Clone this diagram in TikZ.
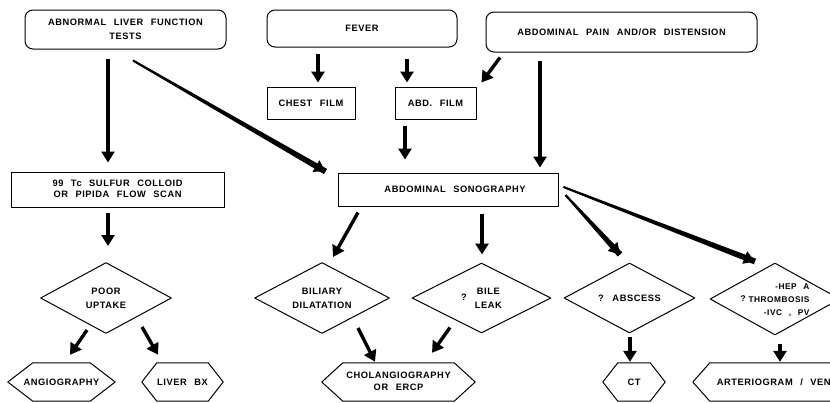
\documentclass[tikz,border=0pt]{standalone}
\usepackage{fontspec}
\newfontfamily\lab[LetterSpace=6,WordSpace=2.4]{Liberation Sans}
\usetikzlibrary{arrows.meta,shapes.geometric,calc}
\newcommand\zb[1]{\makebox[0pt]{\smash{\raisebox{-2.6pt}{\begin{tabular}{@{}c@{}}#1\end{tabular}}}}}
\newcommand\hexa[2]{\draw[outl] (#1.west) -- ([xshift=#2]#1.north west) -- ([xshift=-#2]#1.north east) -- (#1.east) -- ([xshift=-#2]#1.south east) -- ([xshift=#2]#1.south west) -- cycle;}
\newcommand\taper[4]{\fill let \p1=(#1), \p2=(#2), \n1={atan2(\y2-\y1,\x2-\x1)} in
  ($(\p1)+(\n1+90:#3)$) -- ($(\p2)+(\n1+90:#4)$) -- ($(\p2)+(\n1-90:#4)$) -- ($(\p1)+(\n1-90:#3)$) -- cycle;}
\tikzset{
  lbl/.style={font=\lab\bfseries\fontsize{9.3}{14}\selectfont, inner sep=0pt},
  tight/.style={font=\lab\bfseries\fontsize{9.3}{11.5}\selectfont},
  small/.style={font=\lab\bfseries\fontsize{8.3}{13}\selectfont},
  outl/.style={line width=1pt, line join=round},
  rbox/.style={lbl, draw, outl, rounded corners=8pt},
  sbox/.style={lbl, draw, outl},
  dia/.style={lbl, draw, outl, diamond},
  hexnode/.style={lbl, rectangle},
  arr/.style={line width=3.4pt, -{Triangle[length=11pt,width=13pt]}},
  tarr/.style={line width=1.6pt, -{Triangle[length=11pt,width=13pt]}},
}
\begin{document}
\begin{tikzpicture}[x=1pt,y=-1pt]
\clip (0,0) rectangle (830,402);
\fill[white] (0,0) rectangle (830,402);
% top row
\node[rbox, minimum width=201pt, minimum height=39pt] (liver) at (125.5,29.5) {\zb{ABNORMAL LIVER FUNCTION\\TESTS}};
\node[rbox, minimum width=190pt, minimum height=37pt] (fever) at (362,28.5) {\zb{FEVER}};
\node[rbox, minimum width=271pt, minimum height=40pt] (pain) at (621.5,32) {\zb{ABDOMINAL PAIN AND/OR DISTENSION}};
\node[sbox, minimum width=88pt, minimum height=32pt] (chest) at (311,103) {\zb{CHEST FILM}};
\node[sbox, minimum width=81pt, minimum height=32pt] (abd) at (435.5,103) {\zb{ABD. FILM}};
% middle
\node[sbox, tight, minimum width=213pt, minimum height=35pt] (tc) at (117.5,189.5) {\zb{99 Tc SULFUR COLLOID\\OR PIPIDA FLOW SCAN}};
\node[sbox, minimum width=220pt, minimum height=33pt] (sono) at (448,189.5) {\zb{\hspace{14pt}ABDOMINAL SONOGRAPHY}};
% diamonds
\node[dia, minimum width=131pt, minimum height=71pt] (poor) at (106,298) {\zb{POOR\\UPTAKE}};
\node[dia, minimum width=135pt, minimum height=71pt] (biliary) at (322,298) {\zb{BILIARY\\DILATATION}};
\node[dia, minimum width=139pt, minimum height=70pt] (bile) at (481.5,298) {\zb{?\hspace{8pt}\begin{tabular}{@{}c@{}}BILE\\LEAK\end{tabular}}};
\node[dia, minimum width=131pt, minimum height=70pt] (abscess) at (629.5,298) {\zb{? ABSCESS}};
\node[dia, minimum width=130pt, minimum height=72pt, small] (thromb) at (775,299) {\zb{?\hspace{3pt}\begin{tabular}{@{}r@{}}-HEP A\\THROMBOSIS\\-IVC , PV\end{tabular}\hspace{6pt}}};
% hexagons
\node[hexnode, minimum width=107pt, minimum height=38pt] (angio) at (61.5,382) {\zb{ANGIOGRAPHY}};
\node[hexnode, minimum width=81pt, minimum height=38pt] (liverbx) at (182.5,382) {\zb{LIVER BX}};
\node[hexnode, tight, minimum width=153pt, minimum height=38pt] (cholang) at (398.5,382) {\zb{CHOLANGIOGRAPHY\\OR ERCP}};
\node[hexnode, minimum width=62pt, minimum height=38pt] (ct) at (634,382) {\zb{CT}};
\node[hexnode, minimum width=200pt, minimum height=38pt] (arterio) at (793,382) {\zb{ARTERIOGRAM / VENOGRAM}};
\hexa{angio}{25pt}
\hexa{liverbx}{15pt}
\hexa{cholang}{21pt}
\hexa{ct}{15pt}
\hexa{arterio}{17pt}
% arrows
\draw[arr] ([shift={(-17.5,9)}]liver.south) -- ([shift={(-9.5,-9)}]tc.north);
\taper{[shift={(7.5,11)}]liver.south}{[shift={(-12,-1)}]sono.north west}{1pt}{3pt}
\draw[tarr] ([shift={(7.5,11)}]liver.south) -- ([shift={(-12,-1)}]sono.north west);
\draw[arr] ([shift={(-44,6)}]fever.south) -- ([shift={(7,-4)}]chest.north);
\draw[arr] ([shift={(45,11)}]fever.south) -- ([shift={(-28.5,-4)}]abd.north);
\draw[arr] ([shift={(-121.5,5)}]pain.south) -- ([shift={(5,-4)}]abd.north east);
\draw[arr] ([shift={(-81.5,8)}]pain.south) -- ([shift={(92,-5)}]sono.north);
\draw[arr] ([shift={(-30.5,6)}]abd.south) -- ([shift={(-43,-13)}]sono.north);
\draw[arr] ([shift={(-9.5,5)}]tc.south) -- ([shift={(2,-16)}]poor.north);
\draw[arr] ([shift={(-19,-4)}]poor.south) -- ([shift={(8.5,-8)}]angio.north);
\draw[arr] ([shift={(36,-7)}]poor.south) -- ([shift={(-24.5,-8)}]liverbx.north);
\draw[arr] ([shift={(-90,6)}]sono.south) -- ([shift={(11,-5)}]biliary.north);
\draw[arr] ([shift={(34,7)}]sono.south) -- ([shift={(0.5,-8)}]bile.north);
\taper{[shift={(7,5.5)}]sono.east}{[shift={(-9.5,-8)}]abscess.north}{1pt}{3pt}
\draw[tarr] ([shift={(7,5.5)}]sono.east) -- ([shift={(-9.5,-8)}]abscess.north);
\taper{[shift={(5,-2.5)}]sono.east}{[shift={(-20,-1)}]thromb.north}{1pt}{3pt}
\draw[tarr] ([shift={(5,-2.5)}]sono.east) -- ([shift={(-20,-1)}]thromb.north);
\draw[arr] ([shift={(36,-6)}]biliary.south) -- ([shift={(-23.5,-1)}]cholang.north);
\draw[arr] ([shift={(-31.5,-6)}]bile.south) -- ([shift={(33.5,-10)}]cholang.north);
\draw[arr] ([shift={(0.5,3)}]abscess.south) -- ([shift={(-4,-1)}]ct.north);
\draw[arr] ([shift={(5,8)}]thromb.south) -- ([shift={(-13,-1)}]arterio.north);
\end{tikzpicture}
\end{document}
